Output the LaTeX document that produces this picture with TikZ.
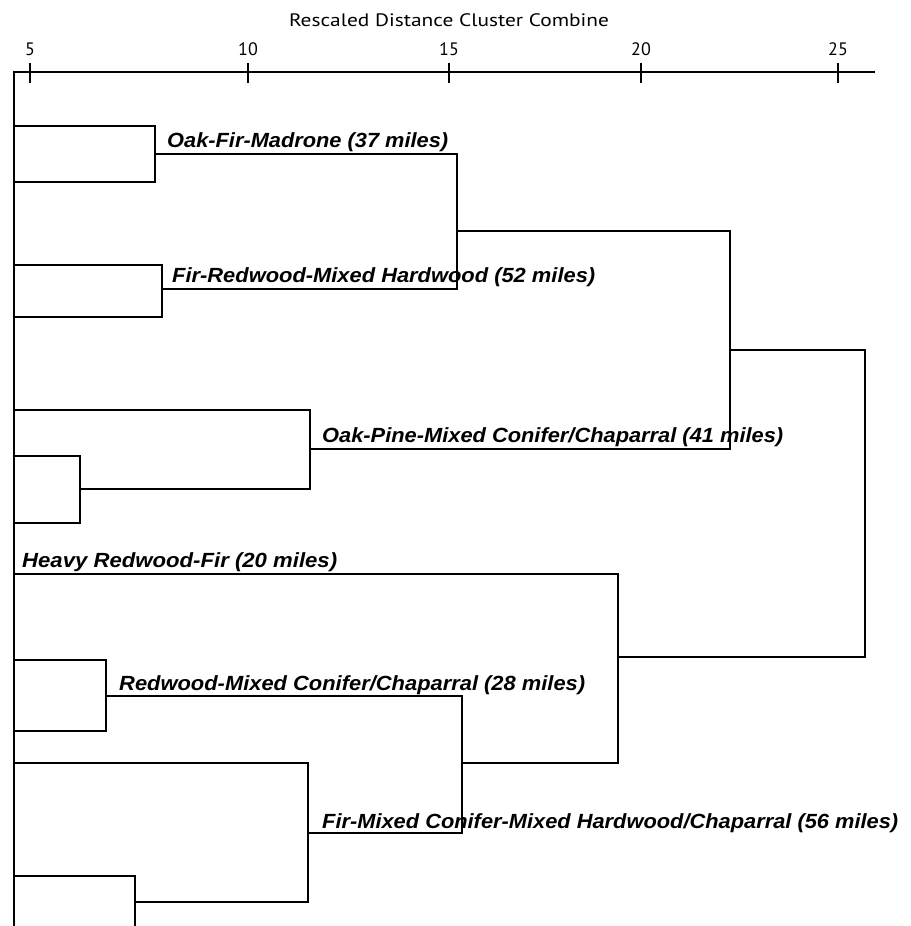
\documentclass[tikz,border=0pt]{standalone}
\usepackage{graphicx}
\usepackage{fontspec}
\setmainfont{Liberation Sans}
\newfontfamily\axfont{PT Sans}
\tikzset{
  dline/.style={line width=1.8pt, line cap=rect, line join=miter},
  lbl/.style={anchor=base west, inner sep=0pt, font=\fontsize{20.5}{22}\selectfont\bfseries\itshape},
  ticklbl/.style={anchor=base, inner sep=0pt, font=\axfont\fontsize{18}{20}\selectfont},
}
\newcommand{\fitw}[2]{\resizebox{#1pt}{\height}{#2}}
\begin{document}
\begin{tikzpicture}[x=1pt,y=-1pt]
\useasboundingbox (0,0) rectangle (910,926);
\begin{scope}
\clip (0,0) rectangle (910,926);
% title and axis
\node[ticklbl] (title) at (449,27) {\fitw{320}{Rescaled Distance Cluster Combine}};
\coordinate (axL) at (14,72);
\coordinate (axR) at (874,72);
\draw[dline] (axL) -- (axR);
\foreach \xx/\lab in {30/5, 248/10, 449/15, 641/20, 838/25} {
  \draw[line width=1.8pt] (\xx,63) -- (\xx,83);
  \node[ticklbl] (t\lab) at (\xx,55) {\lab};
}
\coordinate (base) at (14,930);
\draw[dline] (axL) -- (base);
% cluster A
\draw[dline] (14,126) -- (155,126) -- (155,182) -- (14,182);
\draw[dline] (14,265) -- (162,265) -- (162,317) -- (14,317);
\draw[dline] (155,154) -- (457,154) -- (457,289) -- (162,289);
\draw[dline] (457,231) -- (730,231) -- (730,449) -- (310,449);
\draw[dline] (14,456) -- (80,456) -- (80,523) -- (14,523);
\draw[dline] (14,410) -- (310,410) -- (310,489) -- (80,489);
\draw[dline] (730,350) -- (865,350) -- (865,657) -- (618,657);
% cluster B
\draw[dline] (14,574) -- (618,574) -- (618,763) -- (462,763);
\draw[dline] (14,660) -- (106,660) -- (106,731) -- (14,731);
\draw[dline] (106,696) -- (462,696) -- (462,833) -- (308,833);
\draw[dline] (14,763) -- (308,763) -- (308,902) -- (135,902);
\draw[dline] (14,876) -- (135,876) -- (135,930);
\end{scope}
% labels
\node[lbl] (l1) at (167,147) {\fitw{281}{Oak-Fir-Madrone (37 miles)}};
\node[lbl] (l2) at (172,282) {\fitw{423}{Fir-Redwood-Mixed Hardwood (52 miles)}};
\node[lbl] (l3) at (322,442) {\fitw{461}{Oak-Pine-Mixed Conifer/Chaparral (41 miles)}};
\node[lbl] (l4) at (22,567) {\fitw{315}{Heavy Redwood-Fir (20 miles)}};
\node[lbl] (l5) at (119,690) {\fitw{466}{Redwood-Mixed Conifer/Chaparral (28 miles)}};
\node[lbl] (l6) at (322,828) {\fitw{576}{Fir-Mixed Conifer-Mixed Hardwood/Chaparral (56 miles)}};
\end{tikzpicture}
\end{document}
